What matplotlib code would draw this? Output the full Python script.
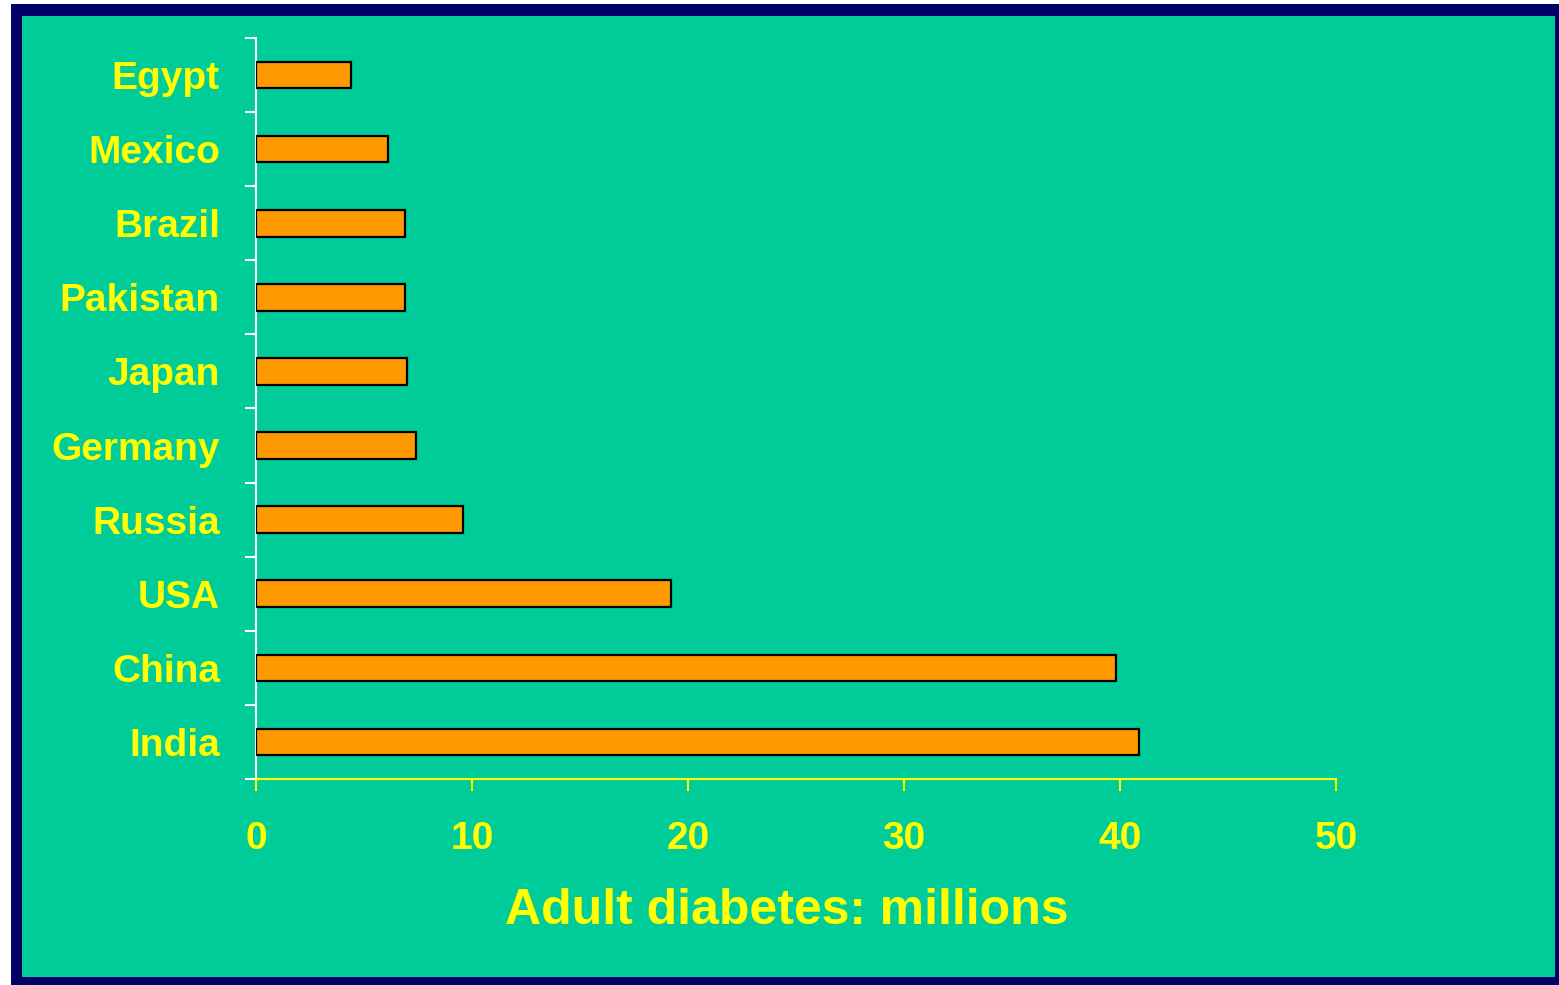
import matplotlib.pyplot as plt
from matplotlib.patches import Rectangle

countries = ["India", "China", "USA", "Russia", "Germany",
             "Japan", "Pakistan", "Brazil", "Mexico", "Egypt"]
diabetes_millions = [40.9, 39.8, 19.2, 9.6, 7.4, 7.0, 6.9, 6.9, 6.1, 4.4]
xticks = [0, 10, 20, 30, 40, 50]

TEAL = "#00CC99"
NAVY = "#000066"
ORANGE = "#FF9900"
YELLOW = "#FFFF00"

plt.rcParams["font.family"] = ["Liberation Sans", "DejaVu Sans"]
plt.rcParams["font.weight"] = "bold"

W, H = 1559, 985
fig = plt.figure(figsize=(W / 100, H / 100), dpi=100, facecolor="white")

# frame: navy border with teal panel inside
fig.patches.append(Rectangle((11 / W, 0), 1 - 11 / W, 1 - 4 / H,
                             transform=fig.transFigure, facecolor=NAVY,
                             edgecolor="none", zorder=-2))
fig.patches.append(Rectangle((22 / W, 8 / H), (1555 - 22) / W, (977 - 16) / H,
                             transform=fig.transFigure, facecolor=TEAL,
                             edgecolor="none", zorder=-1))

ax = fig.add_axes([256 / W, 1 - 779 / H, (1336 - 256) / W, (779 - 38) / H])
ax.set_facecolor("none")

ypos = list(range(len(countries)))
ax.barh(ypos, diabetes_millions, height=0.36, color=ORANGE,
        edgecolor="black", linewidth=1.6, zorder=3)

ax.set_xlim(0, 50)
ax.set_ylim(-0.5, len(countries) - 0.5)

for side in ["top", "right"]:
    ax.spines[side].set_visible(False)
ax.spines["left"].set_color("white")
ax.spines["left"].set_linewidth(1.5)
ax.spines["bottom"].set_color(YELLOW)
ax.spines["bottom"].set_linewidth(1.5)

# y axis: labels on categories, ticks between them
ax.set_yticks(ypos)
ax.set_yticklabels(countries)
ax.set_yticks([i - 0.5 for i in range(len(countries) + 1)], minor=True)
ax.tick_params(axis="y", which="major", length=0, pad=26,
               labelsize=28, labelcolor=YELLOW)
ax.tick_params(axis="y", which="minor", length=8, width=1.5, color="white")

ax.set_xticks(xticks)
ax.tick_params(axis="x", which="major", length=8.5, width=1.5, color=YELLOW,
               pad=22, labelsize=28, labelcolor=YELLOW)

fig.text(787 / W, 1 - 911 / H, "Adult diabetes: millions", color=YELLOW,
         fontsize=36, fontweight="bold", ha="center", va="center")

fig.savefig("out.png", dpi=100, facecolor=fig.get_facecolor())
